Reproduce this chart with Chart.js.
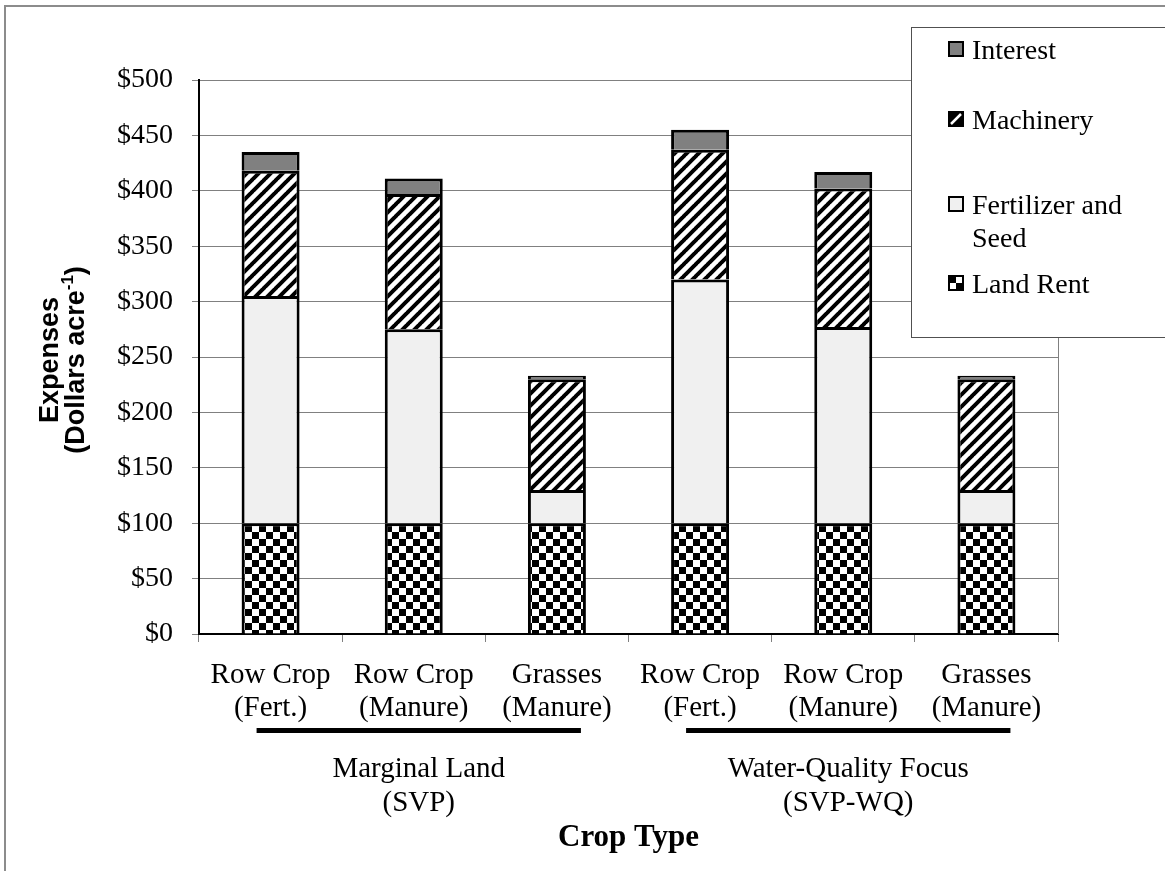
<!DOCTYPE html>
<html>
<head>
<meta charset="utf-8">
<title>Crop production expenses</title>
<script src="https://cdn.jsdelivr.net/npm/chart.js@4.4.1/dist/chart.umd.min.js"></script>
<style>
  html, body { margin: 0; padding: 0; background: #ffffff; }
  #wrap { width: 1165px; height: 871px; position: relative; }
</style>
</head>
<body>
<div id="wrap"><canvas id="chart" width="1165" height="871"></canvas></div>
<script>
// Crop scenarios (two-line category labels)
const categories = [
  ['Row Crop', '(Fert.)'],
  ['Row Crop', '(Manure)'],
  ['Grasses', '(Manure)'],
  ['Row Crop', '(Fert.)'],
  ['Row Crop', '(Manure)'],
  ['Grasses', '(Manure)']
];

// Land-use groupings shown under the category labels
const groupNames = [['Marginal Land', '(SVP)'], ['Water-Quality Focus', '(SVP-WQ)']];
const groupFirst = [0, 3];
const groupLast = [2, 5];

// Expense components, dollars per acre (stacked bottom to top)
const landRent  = [100, 100, 100, 100, 100, 100];
const fertSeed  = [205, 175, 30, 220, 177, 30];
const machinery = [113, 122, 100, 117, 125, 100];
const interest  = [17, 14, 3, 18, 15, 3];

// Value axis
const yMin = 0;
const yMax = 500;
const yStep = 50;

const SERIF = "'Liberation Serif', 'Times New Roman', serif";
const SANS = "'Liberation Sans', Arial, sans-serif";

// ---- fill patterns ----
function checkerPattern(cell) {
  const c = document.createElement('canvas');
  c.width = cell * 2; c.height = cell * 2;
  const g = c.getContext('2d');
  g.fillStyle = '#ffffff'; g.fillRect(0, 0, c.width, c.height);
  g.fillStyle = '#000000';
  g.fillRect(0, 0, cell, cell);
  g.fillRect(cell, cell, cell, cell);
  return g.createPattern(c, 'repeat');
}
function stripePattern(size, width) {
  const c = document.createElement('canvas');
  c.width = size; c.height = size;
  const g = c.getContext('2d');
  g.fillStyle = '#ffffff'; g.fillRect(0, 0, size, size);
  g.strokeStyle = '#000000'; g.lineWidth = width;
  g.beginPath();
  for (let k = -1; k <= 1; k++) {
    g.moveTo(k * size - 1, size + 1);
    g.lineTo(k * size + size + 1, -1);
  }
  g.stroke();
  return g.createPattern(c, 'repeat');
}

const fills = {
  land: checkerPattern(7),
  fert: '#f0f0f0',
  mach: stripePattern(12, 4),
  interest: '#808080'
};

// text helper with optional horizontal squeeze
function drawText(ctx, str, x, y, opts) {
  ctx.save();
  ctx.font = (opts.bold ? 'bold ' : '') + opts.size + 'px ' + (opts.family || SERIF);
  ctx.fillStyle = '#000000';
  ctx.textBaseline = 'alphabetic';
  const sx = opts.sx || 1;
  const w = ctx.measureText(str).width * sx;
  let left = x;
  if (opts.align === 'center') left = x - w / 2;
  else if (opts.align === 'right') left = x - w;
  ctx.translate(left, y);
  ctx.scale(sx, 1);
  ctx.textAlign = 'left';
  ctx.fillText(str, 0, 0);
  ctx.restore();
  return w;
}

const decorations = {
  id: 'decorations',
  beforeDraw(chart) {
    const ctx = chart.ctx;
    ctx.save();
    ctx.fillStyle = '#ffffff';
    ctx.fillRect(0, 0, chart.width, chart.height);
    // outer frame
    ctx.strokeStyle = '#8c8c8c';
    ctx.lineWidth = 2;
    ctx.beginPath();
    ctx.moveTo(5, chart.height + 2);
    ctx.lineTo(5, 6);
    ctx.lineTo(chart.width + 2, 6);
    ctx.stroke();
    ctx.restore();
  },
  afterDraw(chart) {
    const ctx = chart.ctx;
    const xs = chart.scales.x;
    const area = chart.chartArea;

    // right edge of the plot
    ctx.save();
    ctx.strokeStyle = '#808080';
    ctx.lineWidth = 1;
    ctx.beginPath();
    ctx.moveTo(Math.round(area.right) + 0.5, area.top);
    ctx.lineTo(Math.round(area.right) + 0.5, area.bottom);
    ctx.stroke();
    ctx.restore();

    // category labels
    categories.forEach((lines, i) => {
      const cx = xs.getPixelForTick(i);
      lines.forEach((t, j) => {
        drawText(ctx, t, cx, 683 + j * 33, { size: 29, align: 'center' });
      });
    });

    // group bars and names
    groupNames.forEach((lines, g) => {
      const x0 = xs.getPixelForTick(groupFirst[g]) - 14;
      const x1 = xs.getPixelForTick(groupLast[g]) + 24;
      ctx.save();
      ctx.fillStyle = '#000000';
      ctx.fillRect(x0, 728, x1 - x0, 5);
      ctx.restore();
      const mid = (x0 + x1) / 2;
      lines.forEach((t, j) => {
        drawText(ctx, t, mid, 777 + j * 34, { size: 29, align: 'center' });
      });
    });

    // axis titles
    drawText(ctx, 'Crop Type', (area.left + area.right) / 2, 846, { size: 31, bold: true, align: 'center' });

    ctx.save();
    ctx.rotate(-Math.PI / 2);
    // rotated frame: x' = -y, y' = x
    const cy = 360;
    const F = 27;
    drawText(ctx, 'Expenses', -cy, 58, { size: F, bold: true, family: SANS, align: 'center' });
    ctx.font = 'bold ' + F + 'px ' + SANS;
    const a = '(Dollars acre';
    const b = ')';
    const wa = ctx.measureText(a).width;
    const wb = ctx.measureText(b).width;
    ctx.font = 'bold 17px ' + SANS;
    const ws = ctx.measureText('-1').width;
    const left = -cy - (wa + ws + wb) / 2;
    drawText(ctx, a, left, 84, { size: F, bold: true, family: SANS });
    drawText(ctx, '-1', left + wa, 73, { size: 17, bold: true, family: SANS });
    drawText(ctx, b, left + wa + ws, 84, { size: F, bold: true, family: SANS });
    ctx.restore();

    // legend box
    const bx = 911, by = 27, bw = 270, bh = 310;
    ctx.save();
    ctx.fillStyle = '#ffffff';
    ctx.fillRect(bx, by, bw, bh);
    ctx.strokeStyle = '#505050';
    ctx.lineWidth = 1;
    ctx.strokeRect(bx + 0.5, by + 0.5, bw, bh);
    ctx.restore();

    const items = [
      { lines: ['Interest'], base: 59, kind: 'interest' },
      { lines: ['Machinery'], base: 129, kind: 'mach' },
      { lines: ['Fertilizer and', 'Seed'], base: 214, kind: 'fert' },
      { lines: ['Land Rent'], base: 293, kind: 'land' }
    ];
    items.forEach(it => {
      const sx0 = 949, sy0 = it.base - 17, s = 14;
      ctx.save();
      if (it.kind === 'interest') {
        ctx.fillStyle = '#808080'; ctx.fillRect(sx0, sy0, s, s);
      } else if (it.kind === 'fert') {
        ctx.fillStyle = '#f0f0f0'; ctx.fillRect(sx0, sy0, s, s);
      } else if (it.kind === 'mach') {
        ctx.fillStyle = '#000000'; ctx.fillRect(sx0, sy0, s, s);
        ctx.strokeStyle = '#ffffff'; ctx.lineWidth = 2.5;
        ctx.beginPath(); ctx.moveTo(sx0 + 2, sy0 + s - 2); ctx.lineTo(sx0 + s - 2, sy0 + 2); ctx.stroke();
      } else {
        ctx.fillStyle = '#ffffff'; ctx.fillRect(sx0, sy0, s, s);
        ctx.fillStyle = '#000000';
        ctx.fillRect(sx0, sy0, s / 2, s / 2);
        ctx.fillRect(sx0 + s / 2, sy0 + s / 2, s / 2, s / 2);
      }
      ctx.strokeStyle = '#000000'; ctx.lineWidth = 2;
      ctx.strokeRect(sx0, sy0, s, s);
      ctx.restore();
      it.lines.forEach((t, j) => {
        drawText(ctx, t, 972, it.base + j * 33, { size: 28 });
      });
    });
  }
};

const barStyle = { borderColor: '#000000', borderWidth: 3, barPercentage: 0.405, categoryPercentage: 1.0 };

new Chart(document.getElementById('chart'), {
  type: 'bar',
  data: {
    labels: categories,
    datasets: [
      Object.assign({ label: 'Land Rent', data: landRent, backgroundColor: fills.land }, barStyle),
      Object.assign({ label: 'Fertilizer and Seed', data: fertSeed, backgroundColor: fills.fert }, barStyle),
      Object.assign({ label: 'Machinery', data: machinery, backgroundColor: fills.mach }, barStyle),
      Object.assign({ label: 'Interest', data: interest, backgroundColor: fills.interest }, barStyle)
    ]
  },
  options: {
    responsive: false,
    animation: false,
    devicePixelRatio: 1,
    layout: { padding: { left: 0, top: 80, right: 107, bottom: 0 } },
    plugins: { legend: { display: false }, tooltip: { enabled: false }, title: { display: false } },
    scales: {
      x: {
        stacked: true,
        offset: true,
        grid: { display: true, drawOnChartArea: false, drawTicks: true, tickLength: 8, color: '#808080', offset: true },
        border: { display: true, color: '#000000', width: 2 },
        ticks: { display: false },
        afterFit(s) { s.height = 871 - 634; }
      },
      y: {
        stacked: true,
        min: yMin,
        max: yMax,
        grid: { color: '#808080', lineWidth: 1, tickLength: 7, drawTicks: true },
        border: { display: true, color: '#000000', width: 2 },
        ticks: {
          stepSize: yStep,
          padding: 19,
          color: '#000000',
          font: { family: SERIF, size: 28 },
          callback: v => '$' + v
        },
        afterFit(s) { s.width = 199; }
      }
    }
  },
  plugins: [decorations]
});
</script>
</body>
</html>
